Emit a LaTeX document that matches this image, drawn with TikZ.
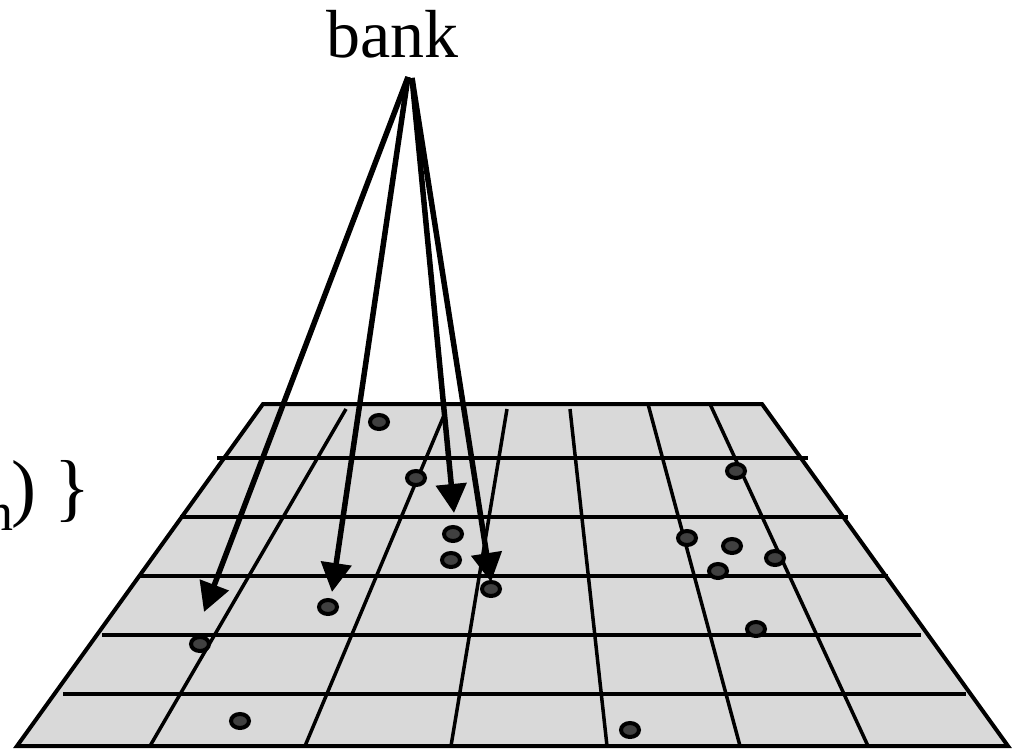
\documentclass[tikz,border=0pt]{standalone}
\usepackage{fontspec}
\setmainfont{Liberation Serif}
\usetikzlibrary{arrows.meta,shapes.geometric}
\definecolor{planegray}{HTML}{D9D9D9}
\definecolor{dotgray}{HTML}{404040}
\tikzset{
  planebox/.style={fill=planegray, draw=black, line width=4pt, line join=miter},
  gridline/.style={draw=black, line width=3.5pt},
  dotnode/.style={ellipse, draw=black, line width=4pt, fill=dotgray,
    minimum width=18pt, minimum height=14pt, inner sep=0pt},
  ray/.style={draw=black, line width=5.5pt, -{Triangle[length=29pt,width=30pt]}},
  bigtext/.style={inner sep=0pt, font=\fontsize{68}{68}\selectfont},
}
\begin{document}
\begin{tikzpicture}[x=1pt,y=-1pt]
\useasboundingbox (0,0) rectangle (1021,749);
\clip (0,0) rectangle (1021,749);
% plane
\draw[planebox] (263,404) -- (762,404) -- (1008,746) -- (17,746) -- cycle;
% horizontal grid lines
\draw[gridline] (217,458) -- (808,458);
\draw[gridline] (180,517) -- (848,517);
\draw[gridline] (140,576) -- (888,576);
\draw[gridline] (102,635) -- (921,635);
\draw[gridline] (63,694) -- (966,694);
% converging grid lines
\draw[gridline] (346,409) -- (150,746);
\draw[gridline] (445,413) -- (305,746);
\draw[gridline] (507,409) -- (451,746);
\draw[gridline] (570,409) -- (607,746);
\draw[gridline] (648,404) -- (740,746);
\draw[gridline] (710,404) -- (868,746);
% dots
\node[dotnode] (d1) at (379,422) {};
\node[dotnode] (d2) at (416,478) {};
\node[dotnode] (d3) at (736,471) {};
\node[dotnode] (d4) at (453,534) {};
\node[dotnode] (d5) at (451,560) {};
\node[dotnode] (d6) at (687,538) {};
\node[dotnode] (d7) at (732,546) {};
\node[dotnode] (d8) at (775,558) {};
\node[dotnode] (d9) at (718,571) {};
\node[dotnode] (d10) at (491,589) {};
\node[dotnode] (d11) at (328,607) {};
\node[dotnode] (d12) at (756,629) {};
\node[dotnode] (d13) at (200,644) {};
\node[dotnode] (d14) at (240,721) {};
\node[dotnode] (d15) at (630,730) {};
% labels
\node[bigtext, anchor=base west] (bank) at (326,58) {bank};
\node[inner sep=0pt, anchor=base east, font=\fontsize{54}{54}\selectfont] (sub) at (13.5,530) {n};
\node[inner sep=0pt, anchor=base west, font=\fontsize{75}{75}\selectfont] (brace) at (11,512) {) \}};
% arrows
\coordinate (apexL) at (408,77);
\coordinate (apexR) at (412,78);
\coordinate (tA) at (204,612);
\coordinate (tB) at (332,592);
\coordinate (tC) at (454,513);
\coordinate (tD) at (491,582);
\draw[ray] (apexL) -- (tA);
\draw[ray] (apexL) -- (tB);
\draw[ray] (apexR) -- (tC);
\draw[ray] (apexR) -- (tD);
\end{tikzpicture}
\end{document}
